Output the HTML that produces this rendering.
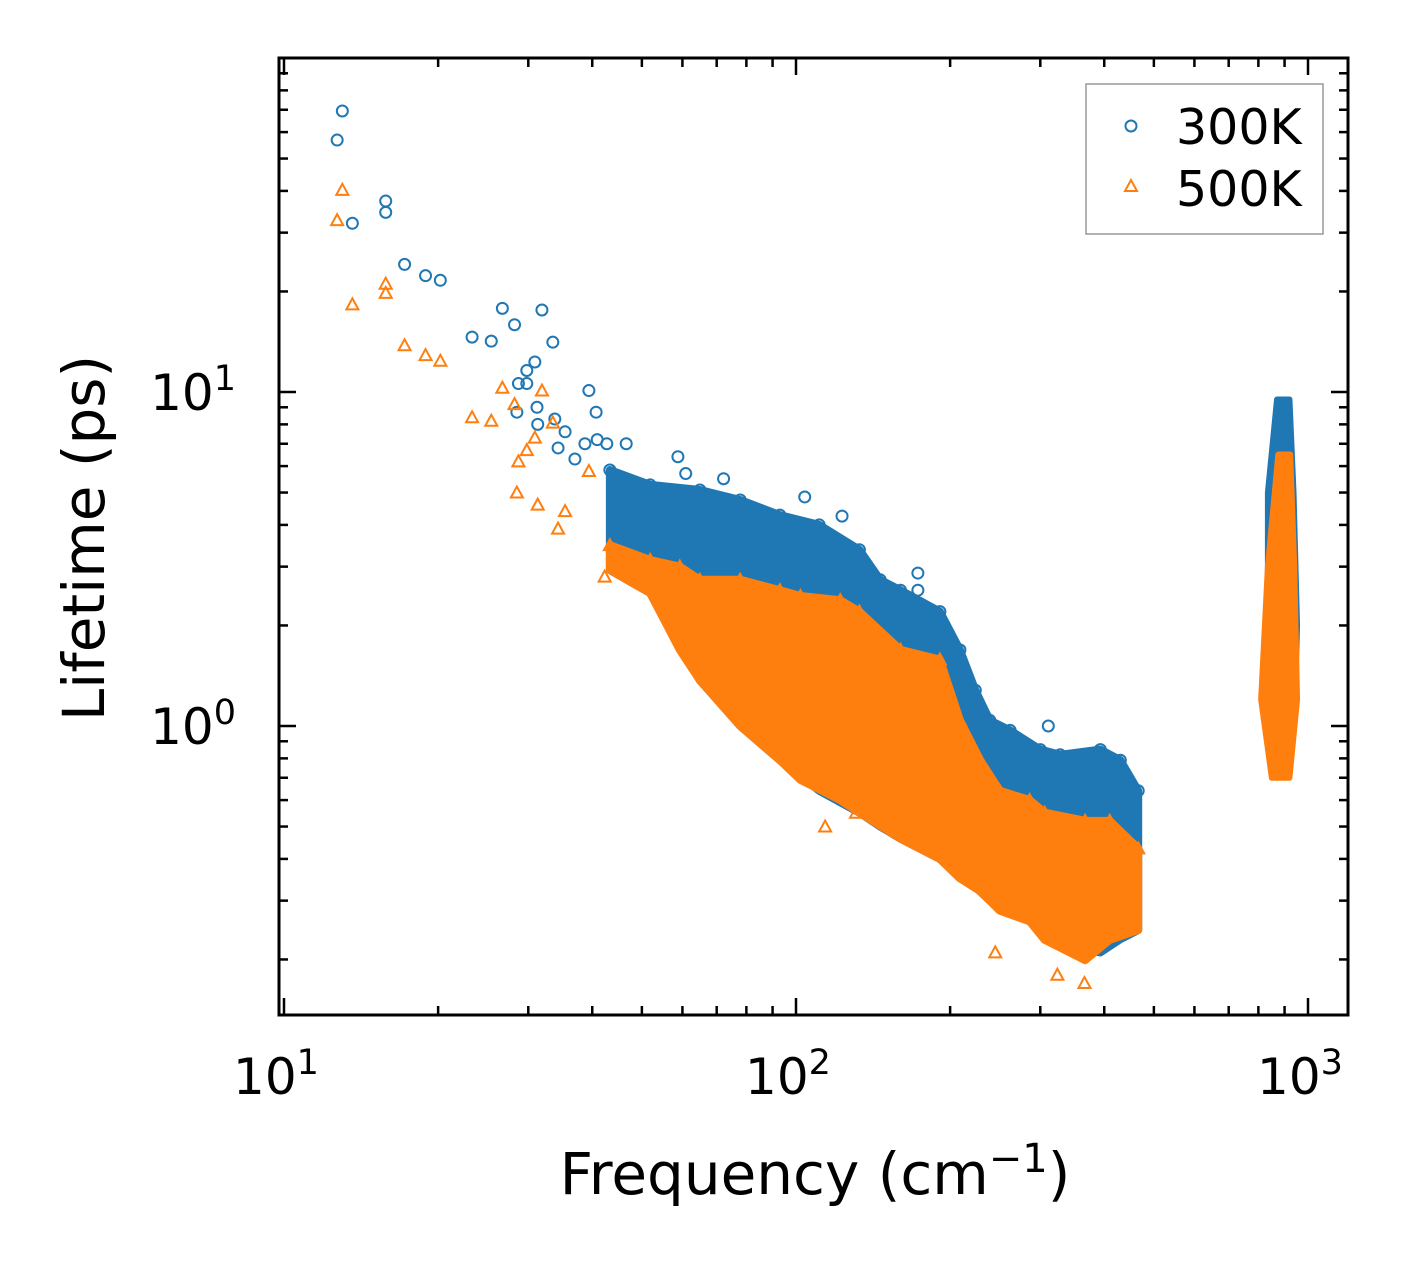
<!DOCTYPE html>
<html><head><meta charset="utf-8"><style>
body{margin:0;background:#fff;}
svg{display:block;font-family:"DejaVu Sans","Liberation Sans",sans-serif;}
</style></head><body>
<svg id="chart" width="1421" height="1265" viewBox="0 0 1421 1265" xmlns="http://www.w3.org/2000/svg">
<rect width="1421" height="1265" fill="#fff"/>
<g id="bands"></g><g id="pts"></g><g id="axes"></g>
<g>
<rect x="1086" y="84" width="237" height="150" fill="#fff" stroke="#999" stroke-width="1.5"/>
<circle cx="1131" cy="126" r="5.5" fill="none" stroke="#1f77b4" stroke-width="2"/>
<text x="1176" y="144" font-size="49">300K</text>
<polygon points="1131,180 1125,191 1137,191" fill="none" stroke="#ff7f0e" stroke-width="2"/>
<text x="1176" y="206" font-size="49">500K</text>
</g>
<text x="815" y="1194" font-size="58" text-anchor="middle">Frequency (cm<tspan dy="-22" font-size="40">−1</tspan><tspan dy="22">)</tspan></text>
<text transform="translate(104,538) rotate(-90)" font-size="58" text-anchor="middle">Lifetime (ps)</text>
</svg>
<script>
// ---- data ----
const blueSparseF=[12.7,13.0,13.6,15.8,15.8,17.2,18.9,20.2,23.3,25.4,26.7,28.2,31.9,33.5,30.9,29.8,28.7,29.8,28.5,31.2,31.3,33.8,34.3,35.4,37.0,39.4,40.7,40.9,38.7,42.7,46.6,58.8,60.9,72.2,104,123,173,173,311];
const blueSparseL=[56.8,69.4,32,34.5,37.3,24.1,22.3,21.6,14.6,14.2,17.8,15.9,17.6,14.1,12.3,11.6,10.6,10.6,8.7,9.0,8.0,8.3,6.8,7.6,6.3,10.1,8.7,7.2,7.0,7.0,7.0,6.4,5.7,5.5,4.85,4.25,2.87,2.55,1.0];
const orangeSparseF=[13.0,12.7,13.6,15.8,15.8,17.2,18.9,20.2,23.3,25.4,26.7,28.2,31.9,33.5,30.9,29.8,28.7,28.5,31.3,34.3,35.4,39.4,42.3,114,131,324,366,245];
const orangeSparseL=[40.3,32.7,18.3,19.8,21.1,13.8,12.9,12.4,8.4,8.2,10.3,9.2,10.1,8.1,7.3,6.7,6.2,5.0,4.6,3.9,4.4,5.8,2.8,0.50,0.55,0.18,0.17,0.21];
const blueBandF=[43.3,51.9,64.9,77.8,93.0,111,133,146,160,191,209,224,239,262,300,328,393,430,466];
const blueBandHi=[5.84,5.27,5.09,4.75,4.28,4.00,3.37,2.74,2.55,2.2,1.69,1.28,1.04,0.97,0.85,0.82,0.85,0.79,0.64];
const blueBandLo=[2.93,2.5,1.37,1.0,0.79,0.64,0.55,0.5,0.46,0.40,0.35,0.33,0.30,0.28,0.26,0.22,0.21,0.23,0.245];
const orangeBandF=[43.3,51.9,59.3,64.9,77.8,93.0,102,122,133,160,191,209,229,250,286,306,367,410,466];
const orangeBandHi=[3.48,3.14,3.0,2.74,2.74,2.55,2.45,2.38,2.2,1.69,1.58,1.04,0.79,0.64,0.60,0.55,0.52,0.52,0.43];
const orangeBandLo=[2.93,2.5,1.69,1.37,1.0,0.79,0.69,0.60,0.55,0.46,0.40,0.35,0.32,0.28,0.26,0.229,0.199,0.229,0.245];
const blueClusterL=[9.5,5,2,1];
const blueClusterFmin=[870,835,835,850];
const blueClusterFmax=[920,937,952,940];
const orangeClusterL=[6.5,3,1.2,0.7];
const orangeClusterFmin=[875,835,810,850];
const orangeClusterFmax=[923,940,952,920];
const xTickVals=[10,100,1000];
const xTickExp=["1","2","3"];
const yTickVals=[1,10];
const yTickExp=["0","1"];

// ---- axes ----
const X0=279,X1=1348,Y0=58,Y1=1015;
const xs=f=>284+512*(Math.log10(f)-1);
const ys=l=>726-334*Math.log10(l);
const NS="http://www.w3.org/2000/svg";
function mk(tag,parent,attrs){const e=document.createElementNS(NS,tag);for(const k in attrs)e.setAttribute(k,attrs[k]);parent.appendChild(e);return e;}
const bands=document.getElementById('bands'),pts=document.getElementById('pts'),axes=document.getElementById('axes');
const BLUE="#1f77b4",ORANGE="#ff7f0e";
const blueG=mk('g',pts,{}),orangeG=mk('g',pts,{});

function circ(g,f,l){const c=mk('circle',g,{cx:xs(f),cy:ys(l),r:5.5,fill:'none',stroke:BLUE,'stroke-width':2});

}
function tri(g,f,l){const x=xs(f),y=ys(l);const p=mk('polygon',g,{points:`${x},${y-6} ${x-6},${y+5} ${x+6},${y+5}`,fill:'none',stroke:ORANGE,'stroke-width':2});

}

function band(g,F,Hi,Lo,color,name,marker){
  let p=[];F.forEach((f,i)=>p.push(xs(f)+','+ys(Hi[i])));
  for(let i=F.length-1;i>=0;i--)p.push(xs(F[i])+','+ys(Lo[i]));
  const e=mk('polygon',g,{points:p.join(' '),fill:color,stroke:color,'stroke-width':8,'stroke-linejoin':'round'});
  
  
  F.forEach((f,i)=>{marker(g,f,Hi[i]);});
}
function cluster(g,L,Fmin,Fmax,color,name){
  let p=[];L.forEach((l,i)=>p.push(xs(Fmin[i])+','+ys(l)));
  for(let i=L.length-1;i>=0;i--)p.push(xs(Fmax[i])+','+ys(L[i]));
  const e=mk('polygon',g,{points:p.join(' '),fill:color,stroke:color,'stroke-width':6,'stroke-linejoin':'round'});
  
  
}
band(blueG,blueBandF,blueBandHi,blueBandLo,BLUE,'cloud-300k',circ);
cluster(blueG,blueClusterL,blueClusterFmin,blueClusterFmax,BLUE,'cluster-300k');
blueSparseF.forEach((f,i)=>circ(blueG,f,blueSparseL[i]));
band(orangeG,orangeBandF,orangeBandHi,orangeBandLo,ORANGE,'cloud-500k',tri);
cluster(orangeG,orangeClusterL,orangeClusterFmin,orangeClusterFmax,ORANGE,'cluster-500k');
orangeSparseF.forEach((f,i)=>tri(orangeG,f,orangeSparseL[i]));

// frame
const fr=mk('rect',axes,{x:X0,y:Y0,width:X1-X0,height:Y1-Y0,fill:'none',stroke:'#000','stroke-width':3});


function tick(x1,y1,x2,y2){mk('line',axes,{x1,y1,x2,y2,stroke:'#000','stroke-width':2.5});}
for(let d=0;d<=3;d++)for(let m=1;m<=9;m++){const v=m*Math.pow(10,d);const x=xs(v);
  if(x<X0||x>X1)continue;const L=m===1?17:9;tick(x,Y1,x,Y1-L);tick(x,Y0,x,Y0+L);}
for(let d=-1;d<=1;d++)for(let m=1;m<=9;m++){const v=m*Math.pow(10,d);const y=ys(v);
  if(y<Y0||y>Y1)continue;const L=m===1?17:9;tick(X0,y,X0+L,y);tick(X1,y,X1-L,y);}
xTickVals.forEach((v,i)=>{const t=mk('text',axes,{x:xs(v)-8,y:1094,'font-size':50,'text-anchor':'middle'});
  
  
  t.textContent='10';const s=mk('tspan',t,{dy:-20,'font-size':35});s.textContent=xTickExp[i];});
yTickVals.forEach((v,i)=>{const t=mk('text',axes,{x:236,y:ys(v)+18,'font-size':50,'text-anchor':'end'});
  
  
  t.textContent='10';const s=mk('tspan',t,{dy:-20,'font-size':35});s.textContent=yTickExp[i];});
</script>
</body></html>
